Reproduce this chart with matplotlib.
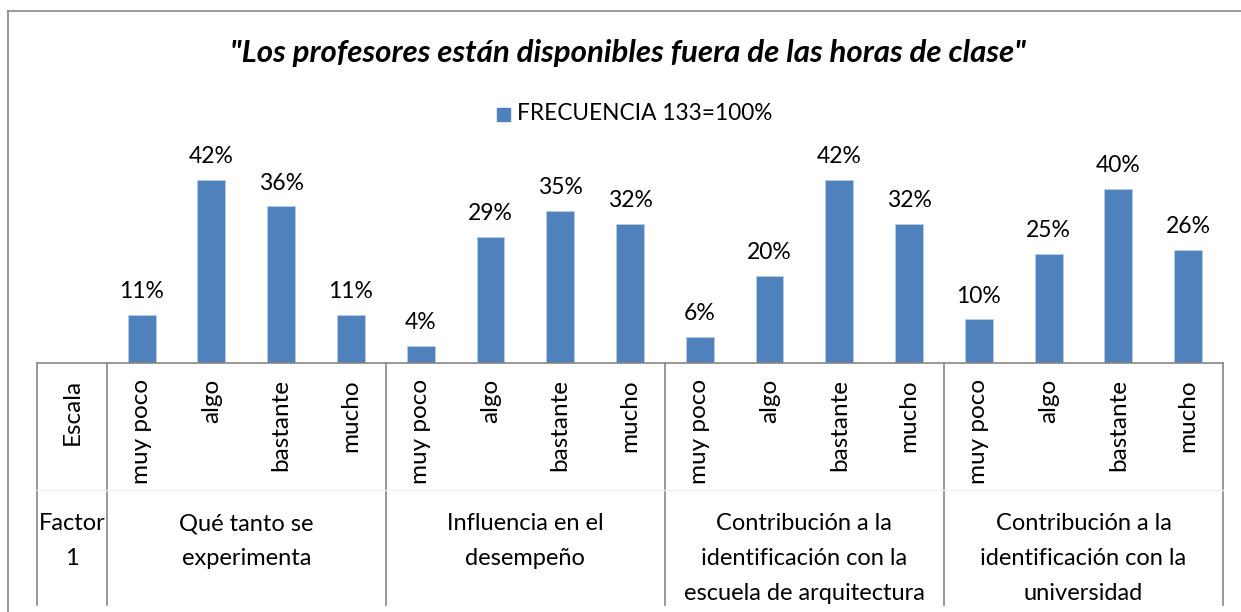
import matplotlib.pyplot as plt
from matplotlib.lines import Line2D
from matplotlib.patches import Rectangle
from matplotlib import transforms

# Chart data
title = '"Los profesores están disponibles fuera de las horas de clase"'
series_name = "FRECUENCIA 133=100%"
scale_labels = ["muy poco", "algo", "bastante", "mucho"]
factors = [
    "Qué tanto se\nexperimenta",
    "Influencia en el\ndesempeño",
    "Contribución a la\nidentificación con la\nescuela de arquitectura",
    "Contribución a la\nidentificación con la\nuniversidad",
]
values = [11, 42, 36, 11,
          4, 29, 35, 32,
          6, 20, 42, 32,
          10, 25, 40, 26]

W, H = 1241, 612
BAR_COLOR = "#4F81BD"
LINE_COLOR = "#868686"
FONT = "Lato"


def fy(py):
    """pixel row (from top) -> figure fraction"""
    return 1 - py / H


fig = plt.figure(figsize=(W / 100, H / 100), dpi=100)

# outer chart border (top and left only visible)
fig.add_artist(Line2D([8 / W, 1], [fy(11), fy(11)], transform=fig.transFigure,
                      color=LINE_COLOR, lw=1.2))
fig.add_artist(Line2D([8 / W, 8 / W], [fy(11), 0], transform=fig.transFigure,
                      color=LINE_COLOR, lw=1.2))

px_per_pct = 183 / 42
ymax = 45
ax_left, ax_right, ax_base = 37, 1223, 363
ax = fig.add_axes([ax_left / W, fy(ax_base), (ax_right - ax_left) / W,
                   ymax * px_per_pct / H])

n_slots = 1 + len(values)
xs = [i + 1.5 for i in range(len(values))]
ax.bar(xs, values, width=0.4, color=BAR_COLOR, edgecolor="#b9cde5", linewidth=0.6)
for x, v in zip(xs, values):
    ax.text(x, v + 2.9, f"{v}%", ha="center", va="bottom", fontsize=16.5,
            family=FONT, color="black")

ax.set_xlim(0, n_slots)
ax.set_ylim(0, ymax)
ax.set_xticks([])
ax.set_yticks([])
for s in ["top", "left", "right"]:
    ax.spines[s].set_visible(False)
ax.spines["bottom"].set_color(LINE_COLOR)
ax.spines["bottom"].set_linewidth(1.2)

# category table below the axis
tr = transforms.blended_transform_factory(ax.transData, fig.transFigure)
for xv in [0, 1, 5, 9, 13, 17]:
    ax.add_line(Line2D([xv, xv], [fy(ax_base), fy(605)], transform=tr,
                       color=LINE_COLOR, lw=1.2, clip_on=False))
ax.add_line(Line2D([0, n_slots], [fy(490), fy(490)], transform=tr,
                   color="#f0f0f0", lw=1, clip_on=False))

ax.text(0.5, fy(379), "Escala", transform=tr, rotation=90, ha="center",
        va="top", fontsize=17.5, family=FONT)
for i in range(len(values)):
    ax.text(i + 1.5, fy(379), scale_labels[i % 4], transform=tr, rotation=90,
            ha="center", va="top", fontsize=17.5, family=FONT)

ax.text(0.5, fy(513), "Factor\n1", transform=tr, ha="center", va="top",
        fontsize=17, family=FONT, linespacing=1.82)
for k, name in enumerate(factors):
    ax.text(1 + 4 * k + 2, fy(513), name, transform=tr, ha="center", va="top",
            fontsize=17, family=FONT, linespacing=1.82)

# title and legend
fig.text(628 / W, fy(53), title, ha="center", va="center", fontsize=22.5,
         family=FONT, weight="bold", style="italic")
fig.add_artist(Rectangle((497 / W, fy(121)), 13 / W, 13 / H,
                         transform=fig.transFigure, color=BAR_COLOR))
fig.text(517 / W, fy(114), series_name, ha="left", va="center", fontsize=16.3,
         family=FONT)

fig.savefig("out.png", dpi=100)
